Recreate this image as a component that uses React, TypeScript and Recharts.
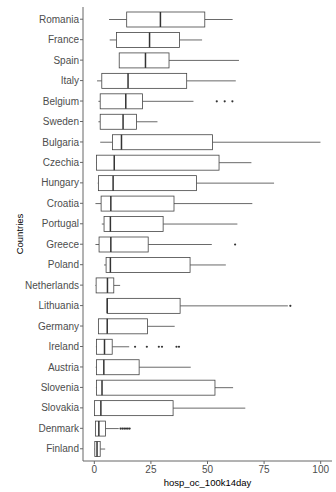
import React from "react";
import { ComposedChart, Bar, XAxis, YAxis, Label } from "recharts";

const countries = [
  "Romania", "France", "Spain", "Italy", "Belgium", "Sweden", "Bulgaria", "Czechia",
  "Hungary", "Croatia", "Portugal", "Greece", "Poland", "Netherlands", "Lithuania",
  "Germany", "Ireland", "Austria", "Slovenia", "Slovakia", "Denmark", "Finland",
];
const whiskerLow = [6.5, 6.8, 11.0, 1.2, 1.8, 1.8, 2.6, 0.8, 1.5, 0.5, 3.3, 0.5, 4.3, 0.5, 5.7, 1.7, 0.7, 0.6, 0.7, 0.1, 0.4, 0.0];
const q1 = [14.3, 9.8, 11.0, 3.3, 2.6, 2.6, 8.0, 1.0, 1.8, 3.0, 4.3, 2.1, 5.2, 0.8, 5.7, 1.8, 1.0, 1.0, 1.0, 0.1, 0.5, 0.2];
const median = [29.2, 24.4, 22.6, 14.9, 13.9, 12.7, 12.0, 8.8, 8.3, 7.3, 7.1, 7.3, 7.1, 5.8, 5.7, 5.7, 4.5, 4.2, 3.4, 2.9, 2.0, 1.2];
const q3 = [48.8, 37.6, 33.0, 40.8, 21.3, 18.6, 52.2, 55.1, 45.1, 35.2, 30.4, 23.8, 42.3, 8.6, 37.9, 23.5, 7.9, 19.8, 53.3, 34.8, 4.9, 2.6];
const whiskerHigh = [61.1, 47.6, 63.9, 62.5, 43.8, 27.9, 99.9, 69.4, 79.4, 69.8, 63.2, 51.9, 58.1, 11.4, 85.5, 35.5, 15.4, 42.6, 61.3, 66.7, 10.8, 4.8];
const outliers: number[][] = [
  [], [], [], [], [54.1, 57.6, 61.0], [], [], [], [], [], [], [62.2], [], [], [86.6],
  [], [18.0, 23.2, 28.5, 29.9, 36.3, 37.4], [], [], [], [11.6, 12.4, 13.2, 14.0, 14.8, 15.6], [],
];
const xTicks = [0, 25, 50, 75, 100];

const data = countries.map((country, i) => {
  const out = outliers[i];
  return {
    country,
    wlo: whiskerLow[i],
    q1: q1[i],
    med: median[i],
    q3: q3[i],
    whi: whiskerHigh[i],
    out,
    lo: Math.min(whiskerLow[i], ...out),
    hi: Math.max(whiskerHigh[i], ...out),
  };
});

const LINE = "#444444";

const BoxShape = (props: any) => {
  const { x, y, width, height, payload } = props;
  const left = Math.min(x, x + width);
  const w = Math.abs(width);
  const k = w / (payload.hi - payload.lo);
  const px = (v: number) => left + (v - payload.lo) * k;
  const cy = y + height / 2;
  return (
    <g>
      <line x1={px(payload.wlo)} x2={px(payload.q1)} y1={cy} y2={cy} stroke={LINE} strokeWidth={0.8} />
      <line x1={px(payload.q3)} x2={px(payload.whi)} y1={cy} y2={cy} stroke={LINE} strokeWidth={0.8} />
      <rect
        x={px(payload.q1)}
        y={y}
        width={px(payload.q3) - px(payload.q1)}
        height={height}
        fill="#ffffff"
        stroke={LINE}
        strokeWidth={0.8}
      />
      <line x1={px(payload.med)} x2={px(payload.med)} y1={y} y2={y + height} stroke="#333" strokeWidth={1.5} />
      {payload.out.map((v: number, j: number) => (
        <circle key={j} cx={px(v)} cy={cy} r={1.1} fill="#333" />
      ))}
    </g>
  );
};

export default function App() {
  return (
    <div style={{ position: "absolute", left: 0, top: 0 }}>
      <ComposedChart
        width={336}
        height={492}
        data={data}
        layout="vertical"
        margin={{ top: 7, right: 4, bottom: 0, left: 0 }}
        style={{ fontFamily: "'Liberation Sans', Arial, sans-serif" }}
      >
        <XAxis
          type="number"
          domain={[-5, 105]}
          ticks={xTicks}
          allowDataOverflow
          height={31}
          axisLine={{ stroke: "#666", strokeWidth: 1 }}
          tickLine={{ stroke: "#666" }}
          tickSize={3}
          tickMargin={1.5}
          tick={{ fill: "#4d4d4d", fontSize: 10 }}
        >
          <Label value="hosp_oc_100k14day" position="insideBottom" offset={6} style={{ fill: "#000", fontSize: 9.5, textAnchor: "middle" }} />
        </XAxis>
        <YAxis
          type="category"
          dataKey="country"
          width={83}
          interval={0}
          padding={{ top: 2, bottom: 2 }}
          axisLine={{ stroke: "#666", strokeWidth: 1 }}
          tickLine={{ stroke: "#666" }}
          tickSize={3}
          tickMargin={1}
          tick={{ fill: "#4d4d4d", fontSize: 10 }}
        >
          <Label value="Countries" angle={-90} position="insideLeft" offset={20} style={{ fill: "#000", fontSize: 9.5, textAnchor: "middle" }} />
        </YAxis>
        <Bar
          dataKey={(d: any) => [d.lo, d.hi]}
          barSize={15}
          shape={<BoxShape />}
          isAnimationActive={false}
          fill="none"
        />
      </ComposedChart>
    </div>
  );
}
